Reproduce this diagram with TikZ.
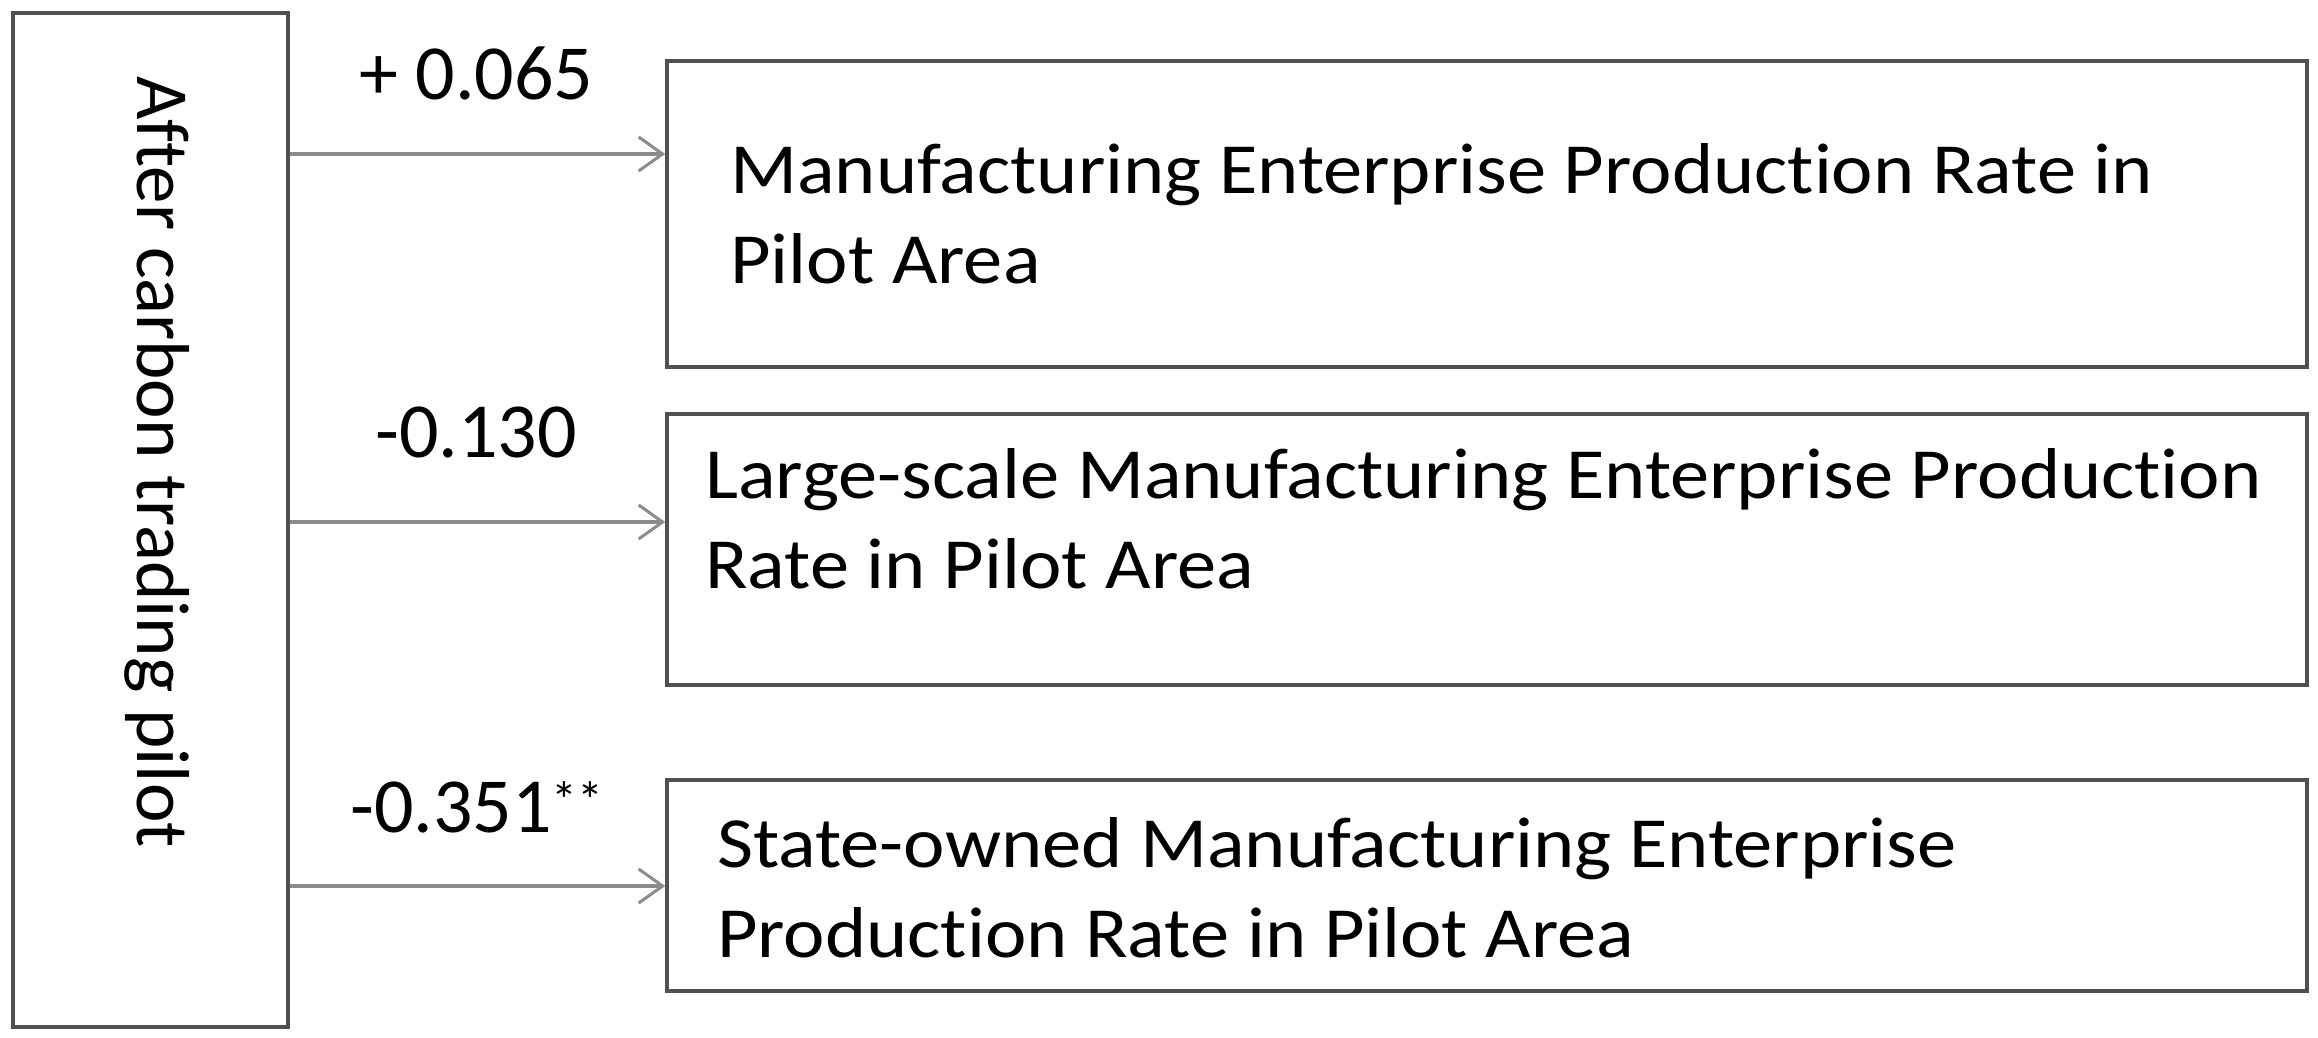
\documentclass[tikz,border=0pt]{standalone}
\usepackage{fontspec}
\setmainfont{Carlito}[Ligatures=CommonOff]
\newfontfamily\boxfont[FakeStretch=1.09,Ligatures=CommonOff]{Carlito}
\usetikzlibrary{arrows.meta}
\definecolor{boxc}{HTML}{505050}
\definecolor{arrc}{HTML}{8C8C8C}
\begin{document}
\begin{tikzpicture}[x=1pt,y=-1pt,
  frame/.style={draw=boxc, line width=3.5pt, inner sep=0pt, fill=white},
  btext/.style={anchor=base west, inner sep=0pt, font=\boxfont\fontsize{72}{90}\selectfont, align=left},
  lbl/.style={anchor=base west, inner sep=0pt, font=\fontsize{78}{90}\selectfont},
  vtext/.style={anchor=base, inner sep=0pt, rotate=-90, font=\fontsize{75}{90}\selectfont},
  conn/.style={draw=arrc, line width=3.5pt, -{Straight Barb[length=24pt,width=34pt,line width=3pt]}}]
\useasboundingbox (0,0) rectangle (2318,1038);
% boxes
\node[frame, minimum width=275pt, minimum height=1014pt] (src) at (150.5,520) {};
\node[frame, minimum width=1640pt, minimum height=306pt] (b1) at (1487,214) {};
\node[frame, minimum width=1640pt, minimum height=271pt] (b2) at (1487,549.5) {};
\node[frame, minimum width=1640pt, minimum height=211pt] (b3) at (1487,885.5) {};
% texts (anchored at the baseline of the last line)
\node[vtext] (srct) at (137,462) {After carbon trading pilot};
\node[btext] (t1) at (730,283) {Manufacturing Enterprise Production Rate in\\Pilot Area};
\node[btext] (t2) at (705,588) {Large-scale Manufacturing Enterprise Production\\Rate in Pilot Area};
\node[btext] (t3) at (717,957) {State-owned Manufacturing Enterprise\\Production Rate in Pilot Area};
% labels
\node[lbl] (l1) at (359,100) {+ 0.065};
\node[lbl] (l2) at (375,457) {-0.130};
\node[lbl] (l3) at (350,832) {-0.351\raisebox{14pt}{\fontsize{52}{52}\selectfont **}};
% connectors
\coordinate (a1) at (0,154);
\coordinate (a2) at (0,522);
\coordinate (a3) at (0,886);
\draw[conn] (src.east |- a1) -- (b1.west |- a1);
\draw[conn] (src.east |- a2) -- (b2.west |- a2);
\draw[conn] (src.east |- a3) -- (b3.west |- a3);
\end{tikzpicture}
\end{document}
